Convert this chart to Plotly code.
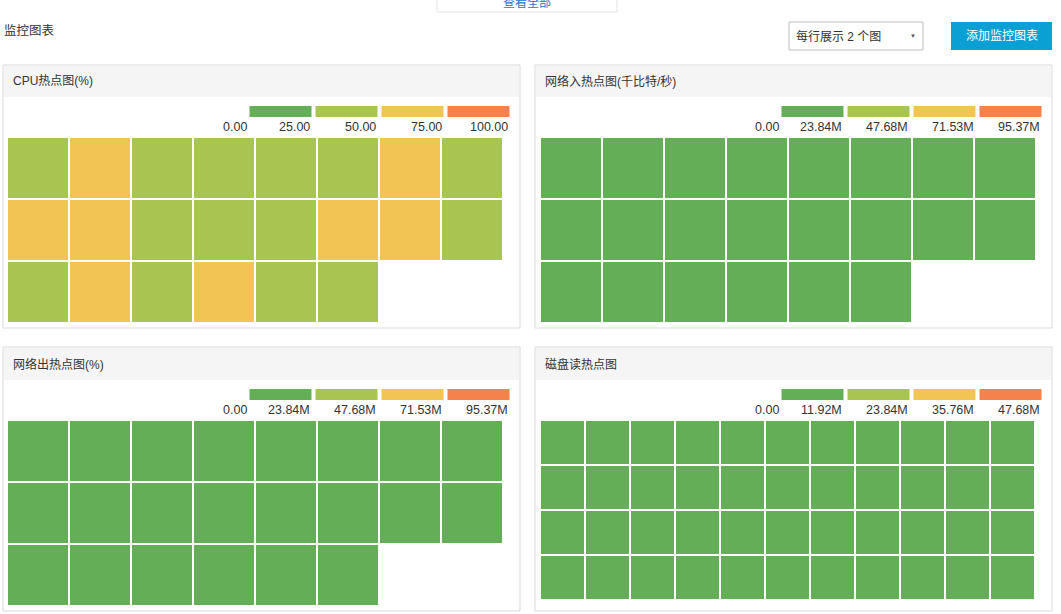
import plotly.graph_objects as go

W, H = 1061, 614

# ---------------- data ----------------
color_levels = ["#63ae57", "#a8c451", "#f1c553", "#f5814c"]

cpu_title = "CPU热点图(%)"
cpu_thresholds = [0, 25, 50, 75, 100]
cpu_ticks = ["0.00", "25.00", "50.00", "75.00", "100.00"]
cpu_row1 = [42, 58, 45, 47, 44, 46, 56, 43]
cpu_row2 = [55, 60, 44, 48, 41, 57, 54, 46]
cpu_row3 = [39, 52, 47, 53, 45, 48]

netin_title = "网络入热点图(千比特/秒)"
netin_thresholds = [0, 23.84, 47.68, 71.53, 95.37]
netin_ticks = ["0.00", "23.84M", "47.68M", "71.53M", "95.37M"]
netin_row1 = [3.2, 2.8, 4.1, 1.9, 2.5, 3.6, 2.2, 1.7]
netin_row2 = [2.9, 3.4, 1.8, 2.6, 4.0, 2.1, 3.1, 2.4]
netin_row3 = [1.6, 2.7, 3.3, 2.0, 2.8, 1.5]

netout_title = "网络出热点图(%)"
netout_thresholds = [0, 23.84, 47.68, 71.53, 95.37]
netout_ticks = ["0.00", "23.84M", "47.68M", "71.53M", "95.37M"]
netout_row1 = [4.5, 3.9, 5.2, 2.8, 3.3, 4.7, 3.0, 2.6]
netout_row2 = [3.8, 4.2, 2.9, 3.5, 5.0, 3.1, 4.4, 3.2]
netout_row3 = [2.5, 3.6, 4.3, 2.7, 3.9, 2.4]

disk_title = "磁盘读热点图"
disk_thresholds = [0, 11.92, 23.84, 35.76, 47.68]
disk_ticks = ["0.00", "11.92M", "23.84M", "35.76M", "47.68M"]
disk_row1 = [0.8, 1.2, 0.5, 0.9, 1.5, 0.7, 1.1, 0.6, 1.3, 0.4, 0.9]
disk_row2 = [1.0, 0.6, 1.4, 0.8, 0.5, 1.2, 0.9, 1.1, 0.7, 1.3, 0.6]
disk_row3 = [0.7, 1.1, 0.9, 1.3, 0.6, 0.8, 1.4, 0.5, 1.0, 0.9, 1.2]
disk_row4 = [1.2, 0.8, 0.6, 1.0, 1.1, 0.5, 0.7, 1.3, 0.8, 1.0, 0.6]

# ---------------- helpers ----------------
FONT = "Liberation Sans, Noto Sans CJK SC, Arial, sans-serif"
TXT = "#333333"


def px_x(v):
    return v / W


def px_y(v):
    return 1 - v / H


def colorscale(levels):
    cs = []
    n = len(levels)
    for i, c in enumerate(levels):
        cs.append([i / n, c])
        cs.append([(i + 1) / n, c])
    return cs


def pad_rows(rows):
    ncols = max(len(r) for r in rows)
    return [list(r) + [None] * (ncols - len(r)) for r in rows]


panels = [
    dict(title=cpu_title, rows=[cpu_row1, cpu_row2, cpu_row3],
         th=cpu_thresholds, ticks=cpu_ticks,
         left=3, top=65, bottom=328, head=32, pitch=62, gap=2, cell_left=7,
         leg_left=247.5, leg_top=106, leg_bot=117, lab_y=127, cell_top=137),
    dict(title=netin_title, rows=[netin_row1, netin_row2, netin_row3],
         th=netin_thresholds, ticks=netin_ticks,
         left=535, top=65, bottom=328, head=32, pitch=62, gap=2, cell_left=540,
         leg_left=779.5, leg_top=106, leg_bot=117, lab_y=127, cell_top=137),
    dict(title=netout_title, rows=[netout_row1, netout_row2, netout_row3],
         th=netout_thresholds, ticks=netout_ticks,
         left=3, top=347, bottom=611, head=33, pitch=62, gap=2, cell_left=7,
         leg_left=247.5, leg_top=389, leg_bot=400, lab_y=410, cell_top=420),
    dict(title=disk_title, rows=[disk_row1, disk_row2, disk_row3, disk_row4],
         th=disk_thresholds, ticks=disk_ticks,
         left=535, top=347, bottom=611, head=33, pitch=45, gap=2, cell_left=540,
         leg_left=779.5, leg_top=389, leg_bot=400, lab_y=410, cell_top=420),
]

PANEL_W = 517
LEG_PITCH = 66

fig = go.Figure()
shapes = []
annotations = []
layout_axes = {}

ax = 0
for p in panels:
    L, T, B = p["left"], p["top"], p["bottom"]
    R = L + PANEL_W
    shapes.append(dict(type="rect", xref="paper", yref="paper",
                       x0=px_x(L), x1=px_x(R), y0=px_y(B), y1=px_y(T),
                       line=dict(color="#d9d9d9", width=1), fillcolor="white", layer="below"))
    shapes.append(dict(type="rect", xref="paper", yref="paper",
                       x0=px_x(L + 1), x1=px_x(R - 1), y0=px_y(T + p["head"]), y1=px_y(T + 1),
                       line=dict(width=0), fillcolor="#f5f5f5", layer="below"))
    annotations.append(dict(text=p["title"], xref="paper", yref="paper",
                            x=px_x(L + 8), y=px_y(T + p["head"] / 2 + 0.5),
                            xanchor="left", yanchor="middle", showarrow=False,
                            font=dict(size=12, color=TXT, family=FONT)))

    z = pad_rows(p["rows"])
    nrows, ncols = len(z), len(z[0])
    cs = colorscale(color_levels)
    zmin, zmax = p["th"][0], p["th"][-1]

    # cells heatmap
    ax += 1
    xa, ya = ("x", "y") if ax == 1 else (f"x{ax}", f"y{ax}")
    xk, yk = ("xaxis", "yaxis") if ax == 1 else (f"xaxis{ax}", f"yaxis{ax}")
    cx0 = p["cell_left"]
    fig.add_trace(go.Heatmap(z=z, x=list(range(ncols)), y=list(range(nrows)),
                             colorscale=cs, zmin=zmin, zmax=zmax, showscale=False,
                             xgap=p["gap"], ygap=p["gap"], xaxis=xa, yaxis=ya,
                             hoverongaps=False))
    layout_axes[xk] = dict(domain=[px_x(cx0), px_x(cx0 + ncols * p["pitch"])],
                           range=[-0.5, ncols - 0.5], visible=False, fixedrange=True,
                           anchor=ya)
    layout_axes[yk] = dict(domain=[px_y(p["cell_top"] + nrows * p["pitch"]), px_y(p["cell_top"])],
                           range=[nrows - 0.5, -0.5], visible=False, fixedrange=True,
                           anchor=xa)

    # legend bar heatmap
    ax += 1
    xa, ya = f"x{ax}", f"y{ax}"
    xk, yk = f"xaxis{ax}", f"yaxis{ax}"
    th = p["th"]
    mids = [(th[i] + th[i + 1]) / 2 for i in range(len(th) - 1)]
    fig.add_trace(go.Heatmap(z=[mids], x=list(range(len(mids))), y=[0],
                             colorscale=cs, zmin=zmin, zmax=zmax, showscale=False,
                             xgap=4, ygap=0, xaxis=xa, yaxis=ya, hoverinfo="skip"))
    ll = p["leg_left"]
    layout_axes[xk] = dict(domain=[px_x(ll), px_x(ll + len(mids) * LEG_PITCH)],
                           range=[-0.5, len(mids) - 0.5], visible=False, fixedrange=True,
                           anchor=ya)
    layout_axes[yk] = dict(domain=[px_y(p["leg_bot"]), px_y(p["leg_top"])],
                           range=[-0.5, 0.5], visible=False, fixedrange=True, anchor=xa)
    for i, t in enumerate(p["ticks"]):
        annotations.append(dict(text=t, xref=xa, yref="paper", x=i - 0.5,
                                y=px_y(p["lab_y"]), xanchor="right", yanchor="middle",
                                xshift=1 if i == 0 else -2, showarrow=False,
                                font=dict(size=12.5, color=TXT, family=FONT)))

# ---------------- page chrome ----------------
shapes.append(dict(type="rect", xref="paper", yref="paper",
                   x0=px_x(437), x1=px_x(617), y0=px_y(12), y1=px_y(-5),
                   line=dict(color="#e3e3e3", width=1), fillcolor="white"))
annotations.append(dict(text="查看全部", xref="paper", yref="paper", x=px_x(527), y=px_y(2.5),
                        xanchor="center", yanchor="middle", showarrow=False,
                        font=dict(size=12, color="#2f6fd0", family=FONT)))
annotations.append(dict(text="监控图表", xref="paper", yref="paper", x=px_x(1.5), y=px_y(31),
                        xanchor="left", yanchor="middle", showarrow=False,
                        font=dict(size=12.5, color=TXT, family=FONT)))
shapes.append(dict(type="rect", xref="paper", yref="paper",
                   x0=px_x(789), x1=px_x(923), y0=px_y(50), y1=px_y(22),
                   line=dict(color="#bfbfbf", width=1), fillcolor="white"))
annotations.append(dict(text="每行展示 2 个图", xref="paper", yref="paper", x=px_x(794), y=px_y(36),
                        xanchor="left", yanchor="middle", showarrow=False,
                        font=dict(size=12, color=TXT, family=FONT)))
annotations.append(dict(text="▼", xref="paper", yref="paper", x=px_x(913), y=px_y(36),
                        xanchor="center", yanchor="middle", showarrow=False,
                        font=dict(size=6, color="#555555", family=FONT)))
shapes.append(dict(type="rect", xref="paper", yref="paper",
                   x0=px_x(951), x1=px_x(1052), y0=px_y(50), y1=px_y(22),
                   line=dict(width=0), fillcolor="#0aa0d4"))
annotations.append(dict(text="添加监控图表", xref="paper", yref="paper", x=px_x(1001.5), y=px_y(36),
                        xanchor="center", yanchor="middle", showarrow=False,
                        font=dict(size=12, color="white", family=FONT)))

fig.update_layout(width=W, height=H, margin=dict(l=0, r=0, t=0, b=0),
                  paper_bgcolor="white", plot_bgcolor="rgba(0,0,0,0)",
                  shapes=shapes, annotations=annotations, showlegend=False,
                  font=dict(family=FONT, color=TXT), **layout_axes)

fig.write_html("out.html", config={"displayModeBar": False},
               post_script="document.body.style.margin='0';document.body.style.padding='0';")
